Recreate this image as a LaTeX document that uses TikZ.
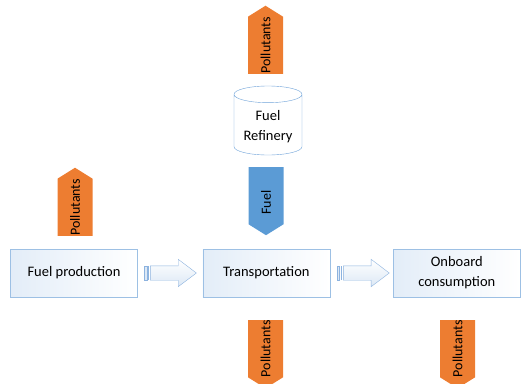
\documentclass[tikz,border=0pt]{standalone}
\usepackage{fontspec}
\setmainfont{Carlito}
\usetikzlibrary{shapes.geometric}
\usetikzlibrary{shapes.arrows}
\usetikzlibrary{positioning}
\definecolor{pollorange}{HTML}{ED7D31}
\definecolor{fuelblue}{HTML}{5B9BD5}
\definecolor{boxline}{HTML}{9DC0E4}
\definecolor{boxfill}{HTML}{E3EDF8}
\definecolor{arrowline}{HTML}{8DB3DF}
\definecolor{arrowfill}{HTML}{DCE8F5}
\definecolor{cylline}{HTML}{6FA3D9}
\tikzstyle{stage} = [rectangle, minimum width=127pt, minimum height=48pt, text centered, align=center, draw=boxline, left color=boxfill, right color=white, font=\fontsize{14.5}{20}\selectfont]
\tikzstyle{tank} = [cylinder, shape border rotate=90, aspect=0.3, minimum width=68pt, minimum height=69pt, draw=cylline, fill=white, align=center, anchor=shape center, font=\fontsize{14.5}{20}\selectfont]
\tikzstyle{pollutant} = [single arrow, rotate=90, single arrow head extend=0pt, single arrow tip angle=116, minimum height=68pt, minimum width=35pt, inner sep=0pt, fill=pollorange, anchor=tail, font=\fontsize{14}{16}\selectfont]
\tikzstyle{pollutantdown} = [pollutant, shape border rotate=180]
\tikzstyle{flowarrow} = [single arrow, minimum height=46pt, minimum width=27pt, single arrow head extend=6.5pt, single arrow tip angle=74, inner xsep=0pt, inner ysep=7pt, draw=arrowline, top color=white, bottom color=arrowfill, anchor=tail]
\tikzstyle{stripe} = [draw=arrowline, fill=arrowfill, line width=0.4pt]

\begin{document}
\begin{tikzpicture}[x=1pt, y=-1pt]
    \useasboundingbox (0,0) rectangle (521,383);

    \node (prod) [stage] at (74,273) {Fuel production};
    \node (trans) [stage, right=65pt of prod] {Transportation};
    \node (board) [stage, right=63pt of trans] {Onboard\\consumption};
    \node (refinery) [tank] at (268,120.5) {Fuel\\Refinery};

    \node (polprod) [pollutant] at (75,236) {Pollutants};
    \node (polref) [pollutant] at (265.5,74) {Pollutants};
    \node (fuel) [pollutantdown, fill=fuelblue] at (266,167) {\hspace*{-14pt}Fuel};
    \node (poltrans) [pollutantdown] at (265.5,320) {Pollutants};
    \node (polboard) [pollutantdown] at (457.5,320) {Pollutants};

    % striped block arrows between the stages
    \node (flowA) [flowarrow] at ([xshift=12.5pt]prod.east) {};
    \node (flowB) [flowarrow] at ([xshift=13pt]trans.east) {};
    \draw [stripe] ([xshift=-6pt, yshift=-7pt]flowA.tail) rectangle ([xshift=-3.5pt, yshift=7pt]flowA.tail);
    \draw [stripe] ([xshift=-2.2pt, yshift=-7pt]flowA.tail) -- ([xshift=-2.2pt, yshift=7pt]flowA.tail);
    \draw [stripe] ([xshift=-6pt, yshift=-7pt]flowB.tail) rectangle ([xshift=-3.5pt, yshift=7pt]flowB.tail);
    \draw [stripe] ([xshift=-2.2pt, yshift=-7pt]flowB.tail) -- ([xshift=-2.2pt, yshift=7pt]flowB.tail);

\end{tikzpicture}
\end{document}
